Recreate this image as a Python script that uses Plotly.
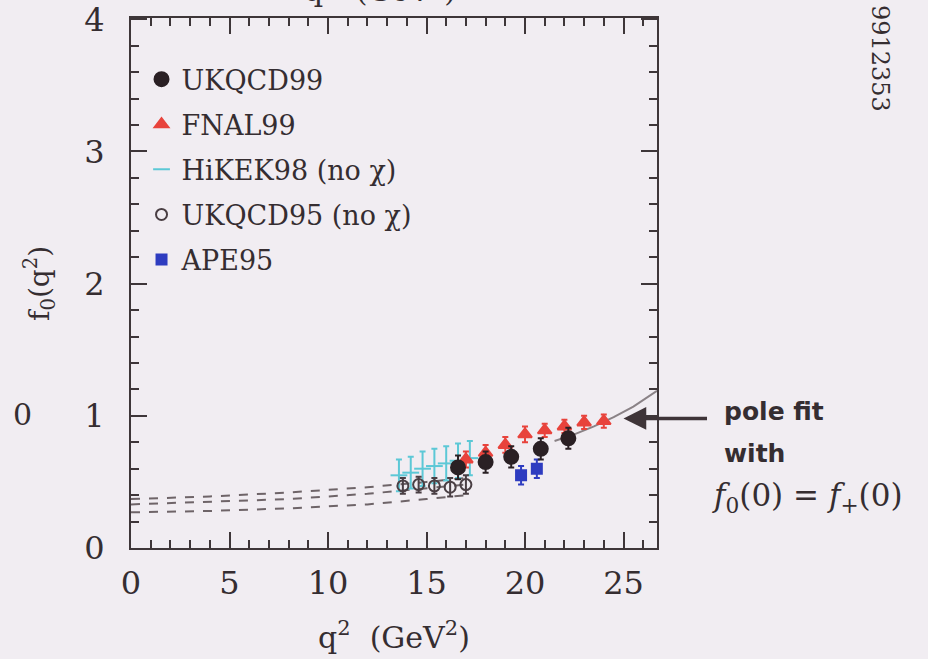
import plotly.graph_objects as go

# ---- data ----
ukqcd99_q2 = [16.6, 18.0, 19.3, 20.8, 22.2]
ukqcd99_f0 = [0.61, 0.65, 0.69, 0.75, 0.83]
ukqcd99_err = [0.09, 0.08, 0.08, 0.08, 0.08]

fnal99_q2 = [17.0, 18.0, 19.0, 20.0, 21.0, 22.0, 23.0, 24.0]
fnal99_f0 = [0.67, 0.72, 0.78, 0.86, 0.89, 0.92, 0.95, 0.96]
fnal99_err = [0.06, 0.06, 0.06, 0.06, 0.05, 0.05, 0.05, 0.05]

hikek98_q2 = [13.6, 14.2, 14.8, 15.4, 16.0, 16.6, 17.2]
hikek98_f0 = [0.55, 0.57, 0.60, 0.62, 0.64, 0.66, 0.68]
hikek98_err = [0.12, 0.12, 0.13, 0.13, 0.13, 0.13, 0.13]

ukqcd95_q2 = [13.8, 14.6, 15.4, 16.2, 17.0]
ukqcd95_f0 = [0.47, 0.48, 0.47, 0.46, 0.48]
ukqcd95_err = [0.06, 0.06, 0.06, 0.07, 0.07]

ape95_q2 = [19.8, 20.6]
ape95_f0 = [0.55, 0.60]
ape95_err = [0.07, 0.07]

dash_q2 = [0, 4, 8, 12, 15, 17]
dash_upper = [0.37, 0.39, 0.42, 0.46, 0.50, 0.53]
dash_mid = [0.33, 0.35, 0.37, 0.41, 0.45, 0.48]
dash_lower = [0.27, 0.28, 0.30, 0.33, 0.37, 0.40]

pole_q2 = [21.5, 22.5, 23.5, 24.5, 25.5, 26.7]
pole_f0 = [0.81, 0.86, 0.92, 0.99, 1.07, 1.19]

x_ticks = [0, 5, 10, 15, 20, 25]
y_ticks = [0, 1, 2, 3, 4]

BG = "#f1edf2"
SERIF = "DejaVu Serif"
FRAME = "#3e3639"
TXT = "#352d31"

fig = go.Figure()

for ys in (dash_upper, dash_mid, dash_lower):
    fig.add_trace(go.Scatter(x=dash_q2, y=ys, mode="lines",
                             line=dict(color="#6e6468", width=2, dash="dash"),
                             showlegend=False, hoverinfo="skip"))
fig.add_trace(go.Scatter(x=pole_q2, y=pole_f0, mode="lines",
                         line=dict(color="#8a8286", width=2),
                         showlegend=False, hoverinfo="skip"))

def series(name, x, y, e, symbol, color, size, group, rank):
    fig.add_trace(go.Scatter(
        x=x, y=y, mode="markers", name=name, legendgroup=group, legendrank=rank,
        marker=dict(symbol=symbol, size=size, color=color,
                    line=dict(color=color, width=2)),
        error_y=dict(type="data", array=e, color=color, thickness=2, width=3),
    ))

series("HiKEK98 (no χ)", hikek98_q2, hikek98_f0, hikek98_err, "line-ew", "#5cc8d6", 12, "c", 3)
series("UKQCD95 (no χ)", ukqcd95_q2, ukqcd95_f0, ukqcd95_err, "circle-open", "#4a3f44", 11, "d", 4)
series("APE95", ape95_q2, ape95_f0, ape95_err, "square", "#2e3cc0", 10, "e", 5)
series("FNAL99", fnal99_q2, fnal99_f0, fnal99_err, "triangle-up", "#e8433c", 12, "b", 2)
series("UKQCD99", ukqcd99_q2, ukqcd99_f0, ukqcd99_err, "circle", "#2a2024", 14, "a", 1)

fig.update_layout(
    width=928, height=659,
    margin=dict(l=131, r=271, t=18, b=111, autoexpand=False),
    paper_bgcolor=BG, plot_bgcolor=BG,
    font=dict(family=SERIF, color=TXT),
    showlegend=True,
    legend=dict(x=0.02, y=0.93, xanchor="left", yanchor="top",
                bgcolor="rgba(0,0,0,0)", font=dict(family=SERIF, size=27, color=TXT),
                tracegroupgap=7, traceorder="grouped", itemwidth=30),
    xaxis=dict(range=[0, 26.7], tickvals=x_ticks, ticks="inside", ticklen=16,
               tickwidth=1.5, tickcolor=FRAME, showgrid=False, zeroline=False,
               showline=True, linecolor=FRAME, linewidth=2, mirror="ticks",
               tickfont=dict(family=SERIF, size=32, color=TXT), automargin=False,
               ticklabelstandoff=6,
               minor=dict(dtick=1, ticks="inside", ticklen=8, tickcolor=FRAME, tickwidth=1.5)),
    yaxis=dict(range=[0, 4.01], tickvals=y_ticks, ticks="inside", ticklen=16,
               tickwidth=1.5, tickcolor=FRAME, showgrid=False, zeroline=False,
               showline=True, linecolor=FRAME, linewidth=2, mirror="ticks",
               tickfont=dict(family=SERIF, size=32, color=TXT), automargin=False,
               ticklabelstandoff=18, ticklabeloverflow="allow",
               minor=dict(dtick=0.2, ticks="inside", ticklen=8, tickcolor=FRAME, tickwidth=1.5)),
)

# axis titles
fig.add_annotation(text="q<sup>2</sup>  (GeV<sup>2</sup>)", xref="paper", yref="paper",
                   x=0.5, y=-0.165, xanchor="center", yanchor="middle", showarrow=False,
                   font=dict(family=SERIF, size=30, color=TXT))
fig.add_annotation(text="f<sub>0</sub>(q<sup>2</sup>)", xref="paper", yref="paper",
                   x=-0.175, y=0.5, xanchor="center", yanchor="middle", showarrow=False,
                   textangle=-90, font=dict(family=SERIF, size=28, color=TXT))

# arrow and pole-fit label
fig.add_annotation(x=25.0, y=0.98, xref="x", yref="y", text="", showarrow=True,
                   ax=85, ay=0, axref="pixel", ayref="pixel",
                   arrowhead=2, arrowsize=1.3, arrowwidth=3.5, arrowcolor="#3e3438")
for txt, ypx in (("pole fit", 411), ("with", 453)):
    fig.add_annotation(text="<b>" + txt + "</b>", xref="paper", yref="paper",
                       x=(722 - 131) / 526, y=(548 - ypx) / 530, xanchor="left", yanchor="middle",
                       showarrow=False, font=dict(family="DejaVu Sans", size=25, color=TXT))
fig.add_annotation(text="<i>f</i><sub>0</sub>(0) = <i>f</i><sub>+</sub>(0)", xref="paper", yref="paper",
                   x=(710 - 131) / 526, y=(548 - 497) / 530, xanchor="left", yanchor="middle",
                   showarrow=False, font=dict(family=SERIF, size=31, color=TXT))

# cut-off neighbouring text of the scanned page
fig.add_annotation(text="9912353", xref="paper", yref="paper",
                   x=(880 - 131) / 526, y=(548 - 58) / 530, xanchor="center", yanchor="middle",
                   textangle=90, showarrow=False,
                   font=dict(family=SERIF, size=24, color=TXT))
fig.add_annotation(text="q<sup>2</sup>  (GeV<sup>2</sup>)", xref="paper", yref="paper",
                   x=(380 - 131) / 526, y=(548 + 12) / 530, xanchor="center", yanchor="middle",
                   showarrow=False, font=dict(family=SERIF, size=30, color=TXT))
fig.add_annotation(text="0", xref="paper", yref="paper",
                   x=(22 - 131) / 526, y=(548 - 415) / 530, xanchor="center", yanchor="middle",
                   showarrow=False, font=dict(family=SERIF, size=30, color=TXT))

fig.write_html("out.html")
